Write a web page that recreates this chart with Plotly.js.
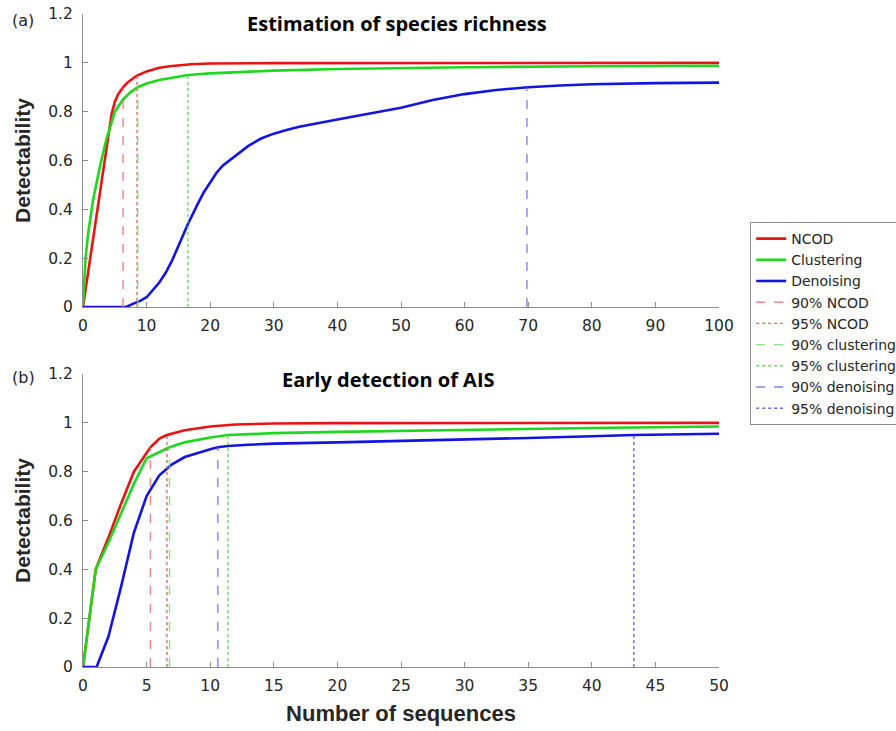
<!DOCTYPE html>
<html>
<head>
<meta charset="utf-8">
<script src="https://cdn.plot.ly/plotly-3.0.1.min.js"></script>
<style>html,body{margin:0;padding:0;background:#fff}#chart{width:896px;height:731px}</style>
</head>
<body>
<div id="chart"></div>
<script>
// ---------- Panel (a): Estimation of species richness ----------
const ncodA_x = [0, 1, 2, 3, 4, 4.5, 5, 5.5, 6.3, 7, 8.5, 10, 12, 14, 17, 20, 30, 50, 100];
const ncodA_y = [0, 0.18, 0.36, 0.53, 0.71, 0.79, 0.84, 0.87, 0.90, 0.92, 0.948, 0.965, 0.98, 0.987, 0.994, 0.997, 0.999, 1.0, 1.0];
const clusA_x = [0, 0.4, 0.8, 1.6, 2.7, 3.7, 4.2, 5, 6.3, 7.5, 8.6, 10, 12, 14, 16.5, 20, 25, 30, 40, 50, 60, 80, 100];
const clusA_y = [0, 0.2, 0.3, 0.44, 0.58, 0.69, 0.73, 0.8, 0.85, 0.88, 0.90, 0.915, 0.93, 0.94, 0.95, 0.957, 0.963, 0.968, 0.975, 0.979, 0.982, 0.986, 0.988];
const denoA_x = [0, 6.8, 8, 9, 10, 11, 12, 13, 14, 15, 16.5, 18, 19, 20, 21, 22, 24, 26, 28, 30, 32, 34, 40, 45, 50, 55, 60, 65, 70, 75, 80, 90, 100];
const denoA_y = [0, 0, 0.015, 0.025, 0.04, 0.07, 0.1, 0.14, 0.19, 0.25, 0.34, 0.42, 0.47, 0.51, 0.55, 0.58, 0.62, 0.66, 0.69, 0.71, 0.725, 0.738, 0.768, 0.793, 0.816, 0.848, 0.872, 0.889, 0.90, 0.907, 0.912, 0.917, 0.919];
// thresholds (x where detectability reaches 90% / 95%), null = not reached
const thrA = [6.3, 8.5, 8.6, 16.5, 69.8, null];

// ---------- Panel (b): Early detection of AIS ----------
const ncodB_x = [0, 1, 2, 3, 4, 5, 5.3, 6, 6.6, 8, 10, 12, 15, 20, 30, 50];
const ncodB_y = [0, 0.40, 0.53, 0.67, 0.80, 0.88, 0.90, 0.935, 0.95, 0.97, 0.985, 0.993, 0.997, 0.999, 1.0, 1.0];
const clusB_x = [0, 1, 2, 3, 4, 5, 6, 6.8, 8, 10, 11.4, 15, 20, 30, 40, 50];
const clusB_y = [0, 0.40, 0.51, 0.63, 0.75, 0.855, 0.88, 0.90, 0.92, 0.94, 0.95, 0.958, 0.963, 0.972, 0.979, 0.985];
const denoB_x = [0, 1.07, 2, 3, 4, 5, 6, 7, 8, 9, 10, 10.6, 11.4, 13, 15, 20, 25, 30, 35, 40, 43.3, 50];
const denoB_y = [0, 0, 0.125, 0.33, 0.55, 0.70, 0.785, 0.83, 0.86, 0.877, 0.892, 0.90, 0.905, 0.91, 0.915, 0.92, 0.925, 0.932, 0.938, 0.945, 0.95, 0.955];
const thrB = [5.3, 6.6, 6.8, 11.4, 10.6, 43.3];

// ---------- shared ----------
const seriesNames = ["NCOD", "Clustering", "Denoising"];
const seriesColors = ["#e81414", "#1ed81e", "#1414e0"];
const thrNames = ["90% NCOD", "95% NCOD", "90% clustering", "95% clustering", "90% denoising", "95% denoising"];
const thrLevels = [0.9, 0.95, 0.9, 0.95, 0.9, 0.95];
const thrColors = ["rgba(235,110,110,0.85)", "rgba(235,90,90,0.9)", "rgba(110,225,110,0.85)", "rgba(90,215,90,0.9)", "rgba(110,110,225,0.85)", "rgba(90,90,215,0.9)"];
const thrDash = ["dash", "dot", "dash", "dot", "dash", "dot"];
const yTickVals = [0, 0.2, 0.4, 0.6, 0.8, 1, 1.2];
const yTickText = ['0', '0.2', '0.4', '0.6', '0.8', '1', '1.2'];
const xTickValsA = [0, 10, 20, 30, 40, 50, 60, 70, 80, 90, 100];
const xTickValsB = [0, 5, 10, 15, 20, 25, 30, 35, 40, 45, 50];

const panelA = [[ncodA_x, ncodA_y], [clusA_x, clusA_y], [denoA_x, denoA_y]];
const panelB = [[ncodB_x, ncodB_y], [clusB_x, clusB_y], [denoB_x, denoB_y]];

const traces = [];
for (let i = 0; i < 3; i++) {
  traces.push({x: panelA[i][0], y: panelA[i][1], xaxis: 'x', yaxis: 'y', mode: 'lines', name: seriesNames[i],
    legendgroup: seriesNames[i], line: {color: seriesColors[i], width: 2.6}, hoverinfo: 'skip'});
  traces.push({x: panelB[i][0], y: panelB[i][1], xaxis: 'x2', yaxis: 'y2', mode: 'lines', name: seriesNames[i],
    legendgroup: seriesNames[i], showlegend: false, line: {color: seriesColors[i], width: 2.6}, hoverinfo: 'skip'});
}
for (let j = 0; j < 6; j++) {
  const hasA = thrA[j] !== null;
  if (hasA) {
    traces.push({x: [thrA[j], thrA[j]], y: [0, thrLevels[j]], xaxis: 'x', yaxis: 'y', mode: 'lines', name: thrNames[j],
      legendgroup: thrNames[j], line: {color: thrColors[j], width: 1.4, dash: thrDash[j]}, hoverinfo: 'skip'});
  }
  traces.push({x: [thrB[j], thrB[j]], y: [0, thrLevels[j]], xaxis: 'x2', yaxis: 'y2', mode: 'lines', name: thrNames[j],
    legendgroup: thrNames[j], showlegend: !hasA, line: {color: thrColors[j], width: 1.4, dash: thrDash[j]}, hoverinfo: 'skip'});
}

const tickFont = {family: 'DejaVu Sans, sans-serif', size: 15.5, color: '#262626'};
const axisBase = {showline: true, linecolor: '#8c8c8c', linewidth: 1, ticks: 'inside', ticklen: 5, tickcolor: '#8c8c8c',
  showgrid: false, zeroline: false, tickfont: tickFont, mirror: false};
const yTitle = {text: 'Detectability', font: {family: 'Liberation Sans, Arial, sans-serif', size: 21, color: '#262626', weight: 'bold'}, standoff: 11};

const layout = {
  width: 896, height: 731,
  margin: {l: 83, r: 177, t: 14, b: 64, autoexpand: false},
  paper_bgcolor: '#fff', plot_bgcolor: '#fff',
  showlegend: true,
  xaxis: Object.assign({}, axisBase, {domain: [0, 1], anchor: 'y', range: [0, 100], tickvals: xTickValsA, ticklabelstandoff: 4}),
  yaxis: Object.assign({}, axisBase, {domain: [0.5513, 1], anchor: 'x', range: [0, 1.2], tickvals: yTickVals, ticktext: yTickText, ticklabelstandoff: 6, title: yTitle}),
  xaxis2: Object.assign({}, axisBase, {domain: [0, 1], anchor: 'y2', range: [0, 50], tickvals: xTickValsB, ticklabelstandoff: 4,
    title: {text: 'Number of sequences', font: {family: 'Liberation Sans, Arial, sans-serif', size: 22, color: '#262626', weight: 'bold'}, standoff: 12}}),
  yaxis2: Object.assign({}, axisBase, {domain: [0, 0.4487], anchor: 'x2', range: [0, 1.2], tickvals: yTickVals, ticktext: yTickText, ticklabelstandoff: 6, title: yTitle}),
  legend: {x: 1.049, y: 0.6815, xanchor: 'left', yanchor: 'top', bgcolor: '#fff', bordercolor: '#8c8c8c', borderwidth: 1,
    font: {family: 'DejaVu Sans, sans-serif', size: 14, color: '#262626'}, tracegroupgap: 0, itemwidth: 30},
  annotations: [
    {text: 'Estimation of species richness', xref: 'paper', yref: 'paper', x: 0.494, y: 0.9847, xanchor: 'center', yanchor: 'middle', showarrow: false,
      font: {family: 'Open Sans, sans-serif', size: 20, color: '#000', weight: 'bold'}},
    {text: 'Early detection of AIS', xref: 'paper', yref: 'paper', x: 0.481, y: 0.441, xanchor: 'center', yanchor: 'middle', showarrow: false,
      font: {family: 'Open Sans, sans-serif', size: 20, color: '#000', weight: 'bold'}},
    {text: '(a)', xref: 'paper', yref: 'paper', x: -0.0943, y: 0.9908, xanchor: 'center', yanchor: 'middle', showarrow: false,
      font: {family: 'DejaVu Sans, sans-serif', size: 16, color: '#262626'}},
    {text: '(b)', xref: 'paper', yref: 'paper', x: -0.0943, y: 0.4426, xanchor: 'center', yanchor: 'middle', showarrow: false,
      font: {family: 'DejaVu Sans, sans-serif', size: 16, color: '#262626'}}
  ]
};

Plotly.newPlot('chart', traces, layout, {staticPlot: true, displayModeBar: false});
</script>
</body>
</html>
